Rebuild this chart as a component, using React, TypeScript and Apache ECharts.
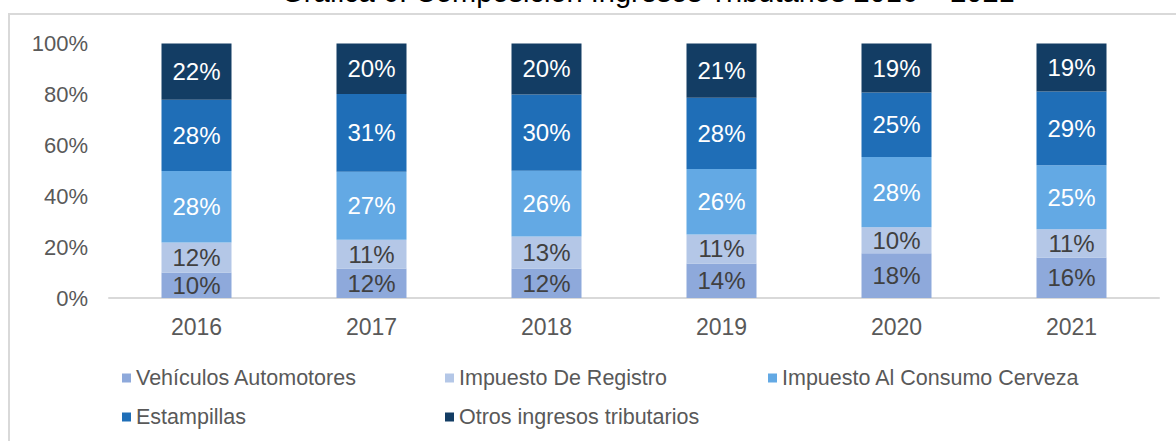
import React, { useEffect, useRef } from "react";
import * as echarts from "echarts";

const years = ["2016", "2017", "2018", "2019", "2020", "2021"];
const seriesNames = [
  "Vehículos Automotores",
  "Impuesto De Registro",
  "Impuesto Al Consumo Cerveza",
  "Estampillas",
  "Otros ingresos tributarios",
];
const vehiculos = [10.0, 11.6, 11.6, 13.6, 17.6, 15.9];
const registro = [11.8, 11.3, 12.6, 11.4, 10.2, 11.1];
const cerveza = [28.1, 26.7, 25.8, 25.7, 27.6, 25.2];
const estampillas = [28.0, 30.6, 30.0, 28.0, 25.3, 28.9];
const otros = [22.1, 19.8, 20.0, 21.3, 19.3, 18.9];
const yTicks = [0, 20, 40, 60, 80, 100];
const titleText = "Gráfica 6. Composición Ingresos Tributarios 2016 – 2021";

const colors = ["#8EA9DB", "#B4C7E7", "#63A9E4", "#1F6EB7", "#133D64"];
const labelColors = ["#404040", "#404040", "#FFFFFF", "#FFFFFF", "#FFFFFF"];
const FONT = "'Liberation Sans', Arial, sans-serif";

export default function App() {
  const ref = useRef<HTMLDivElement>(null);
  useEffect(() => {
    if (!ref.current) return;
    const chart = echarts.init(ref.current, null, { renderer: "svg" });
    const data = [vehiculos, registro, cerveza, estampillas, otros];
    const legendPos = [
      { left: 122, top: 367 },
      { left: 445, top: 367 },
      { left: 768, top: 367 },
      { left: 122, top: 406 },
      { left: 445, top: 406 },
    ];
    chart.setOption({
      animation: false,
      backgroundColor: "#ffffff",
      textStyle: { fontFamily: FONT },
      graphic: [
        {
          type: "rect",
          shape: { x: 9, y: 14, width: 1300, height: 600 },
          style: { fill: "none", stroke: "#D9D9D9", lineWidth: 2 },
          silent: true,
        },
        {
          type: "text",
          x: 648,
          y: 6,
          style: {
            text: titleText,
            fill: "#000000",
            font: `29px ${FONT}`,
            textAlign: "center",
            textVerticalAlign: "bottom",
          },
          silent: true,
        },
      ],
      legend: seriesNames.map((n, i) => ({
        data: [n],
        left: legendPos[i].left,
        top: legendPos[i].top,
        icon: "rect",
        itemWidth: 9,
        itemHeight: 9,
        padding: 0,
        selectedMode: false,
        textStyle: { color: "#595959", fontSize: 21.5, fontFamily: FONT },
      })),
      grid: { left: 109, right: 17, top: 43.5, bottom: 143, containLabel: false },
      xAxis: {
        type: "category",
        data: years,
        axisTick: { show: false },
        axisLine: { show: true, lineStyle: { color: "#D9D9D9", width: 2 } },
        axisLabel: { color: "#595959", fontSize: 23, margin: 17, fontFamily: FONT },
      },
      yAxis: {
        type: "value",
        min: yTicks[0],
        max: yTicks[yTicks.length - 1],
        interval: yTicks[1] - yTicks[0],
        splitLine: { show: false },
        axisLine: { show: false },
        axisTick: { show: false },
        axisLabel: {
          color: "#595959",
          fontSize: 22,
          margin: 21,
          fontFamily: FONT,
          formatter: (v: number) => `${v}%`,
        },
      },
      series: seriesNames.map((n, i) => ({
        name: n,
        type: "bar",
        stack: "total",
        barWidth: 70,
        data: data[i],
        itemStyle: { color: colors[i] },
        label: {
          show: true,
          position: "inside",
          color: labelColors[i],
          fontSize: 24,
          fontFamily: FONT,
          formatter: (p: any) => `${Math.round(p.value)}%`,
        },
      })),
    });
    return () => chart.dispose();
  }, []);
  return (
    <div
      ref={ref}
      style={{ position: "fixed", left: 0, top: 0, width: 1176, height: 441 }}
    />
  );
}
